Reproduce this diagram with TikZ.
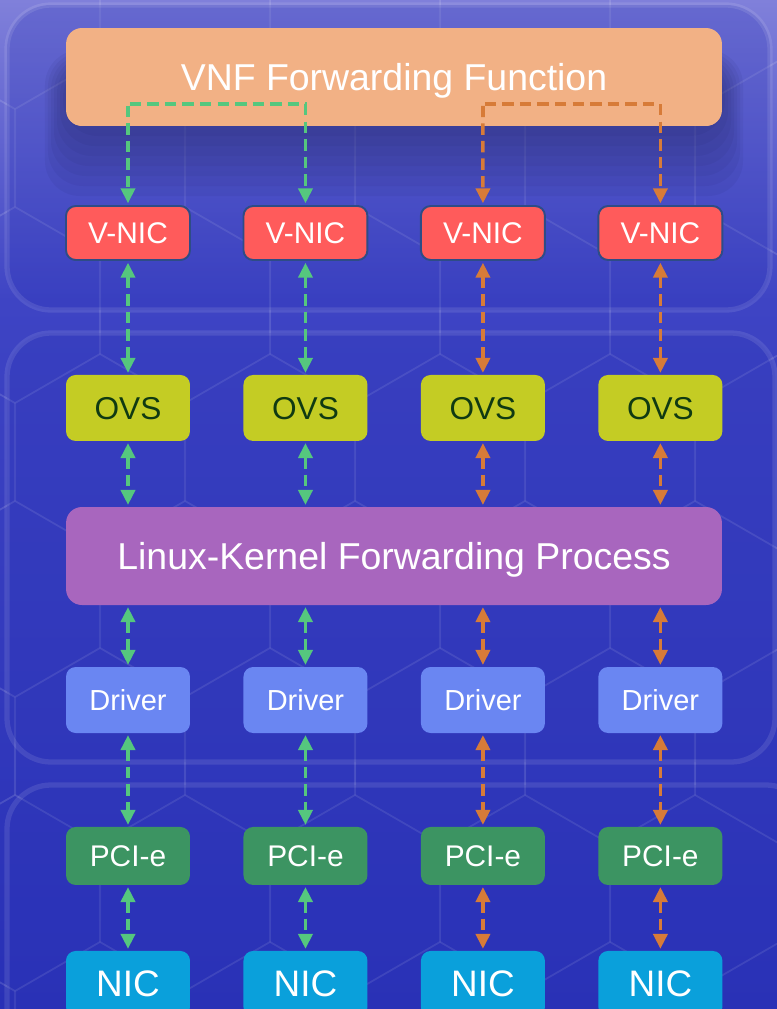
\documentclass[tikz,border=0pt]{standalone}
\usepackage{fontspec}
\setmainfont{Liberation Sans}
\usetikzlibrary{shapes,arrows.meta,positioning}

\definecolor{bgtop}{HTML}{8080DA}
\definecolor{bgmid}{HTML}{3E44C4}
\definecolor{bgbot}{HTML}{2830B6}
\definecolor{panelblue}{HTML}{2E36B8}
\definecolor{shadowblue}{HTML}{14164A}
\definecolor{vnforange}{HTML}{F2B185}
\definecolor{vnicred}{HTML}{FF5B5B}
\definecolor{vnicedge}{HTML}{2E4C86}
\definecolor{ovsyellow}{HTML}{C4CC24}
\definecolor{ovstext}{HTML}{103A12}
\definecolor{kernelpurple}{HTML}{A866BE}
\definecolor{drvblue}{HTML}{6A86F2}
\definecolor{pcigreen}{HTML}{3C9462}
\definecolor{nicblue}{HTML}{0AA0DB}
\definecolor{flowgreen}{HTML}{55C77E}
\definecolor{floworange}{HTML}{D77B38}

\tikzstyle{hexline} = [draw=white, draw opacity=0.07, line width=1pt]
\tikzstyle{panel} = [rounded corners=25pt, fill=panelblue, fill opacity=0.30, draw=white, draw opacity=0.10, line width=3pt]
\tikzstyle{box} = [rectangle, rounded corners=5.5pt, minimum width=2.48cm, inner sep=0pt, text depth=0pt, text=white]
\tikzstyle{wide} = [box, minimum width=13.12cm, minimum height=1.96cm, rounded corners=9pt, font=\fontsize{21.3pt}{25pt}\selectfont]
\tikzstyle{vnic} = [box, fill=vnicred, draw=vnicedge, line width=1.1pt, minimum height=1.08cm, font=\fontsize{17pt}{20pt}\selectfont]
\tikzstyle{ovs} = [box, fill=ovsyellow, text=ovstext, minimum height=1.32cm, font=\fontsize{18pt}{21pt}\selectfont]
\tikzstyle{driver} = [box, fill=drvblue, minimum height=1.32cm, font=\fontsize{16.5pt}{20pt}\selectfont]
\tikzstyle{pcie} = [box, fill=pcigreen, minimum height=1.16cm, font=\fontsize{17pt}{20pt}\selectfont]
\tikzstyle{nic} = [box, fill=nicblue, minimum height=1.32cm, font=\fontsize{21pt}{24pt}\selectfont]
\tikzstyle{gflow} = [draw=flowgreen, line width=2pt, dash pattern=on 6.5pt off 3.5pt, shorten >=1pt, shorten <=1pt]
\tikzstyle{oflow} = [gflow, draw=floworange]

\begin{document}
\begin{tikzpicture}[x=0.02cm, y=-0.02cm, node distance=3.55cm, >={Triangle[width=8pt,length=8.5pt]}]
		% background
		\clip (0,0) rectangle (777,1009);
		\shade[top color=bgtop, bottom color=bgmid] (0,0) rectangle (777,300);
		\shade[top color=bgmid, bottom color=bgbot] (0,299) rectangle (777,1009);
		\foreach \r in {0,...,7}{
			\foreach \c in {-1,...,5}{
				\pgfmathsetmacro{\hx}{\c*170+mod(\r,2)*85+15}
				\pgfmathsetmacro{\hy}{\r*147+11}
				\draw[hexline] (\hx,\hy) +(30:98) -- +(90:98) -- +(150:98) -- +(210:98) -- +(270:98) -- +(330:98) -- cycle;
			}
		}
		\draw[panel] (7,5) rectangle (770,310);
		\draw[panel] (7,333) rectangle (775,762);
		\draw[panel] (7,785) rectangle (810,1060);
		\foreach \s in {0,5,...,35}
			\fill[shadowblue, opacity=0.06, rounded corners=20pt] (66-0.6*\s,64-0.4*\s) rectangle (722+0.6*\s,126+2*\s);

		\node [wide, fill=vnforange] (vnf) at (394,77) {VNF Forwarding Function};

		\node [vnic] (vnic1) at (128,233) {V-NIC};
		\node [vnic, right of=vnic1] (vnic2) {V-NIC};
		\node [vnic, right of=vnic2] (vnic3) {V-NIC};
		\node [vnic, right of=vnic3] (vnic4) {V-NIC};

		\node [ovs, below of=vnic1, node distance=3.5cm] (ovs1) {OVS};
		\node [ovs, right of=ovs1] (ovs2) {OVS};
		\node [ovs, right of=ovs2] (ovs3) {OVS};
		\node [ovs, right of=ovs3] (ovs4) {OVS};

		\node [wide, fill=kernelpurple] (kernel) at (394,556) {Linux-Kernel Forwarding Process};

		\node [driver] (drv1) at (128,700) {Driver};
		\node [driver, right of=drv1] (drv2) {Driver};
		\node [driver, right of=drv2] (drv3) {Driver};
		\node [driver, right of=drv3] (drv4) {Driver};

		\node [pcie, below of=drv1, node distance=3.12cm] (pci1) {PCI-e};
		\node [pcie, right of=pci1] (pci2) {PCI-e};
		\node [pcie, right of=pci2] (pci3) {PCI-e};
		\node [pcie, right of=pci3] (pci4) {PCI-e};

		\node [nic, below of=pci1, node distance=2.56cm] (nic1) {NIC};
		\node [nic, right of=nic1] (nic2) {NIC};
		\node [nic, right of=nic2] (nic3) {NIC};
		\node [nic, right of=nic3] (nic4) {NIC};

		% VNF to V-NIC
		\coordinate (gsplit) at (128,104);
		\coordinate (osplit) at (483,104);
		\draw [gflow, ->] (gsplit) -- (vnic1);
		\draw [gflow, ->] (gsplit) -| (vnic2);
		\draw [oflow, ->] (osplit) -- (vnic3);
		\draw [oflow, ->] (osplit) -| (vnic4);

		% V-NIC to OVS
		\draw [gflow, <->] (vnic1) -- (ovs1);
		\draw [gflow, <->] (vnic2) -- (ovs2);
		\draw [oflow, <->] (vnic3) -- (ovs3);
		\draw [oflow, <->] (vnic4) -- (ovs4);

		% OVS to kernel
		\draw [gflow, <->] (ovs1) -- (ovs1 |- kernel.north);
		\draw [gflow, <->] (ovs2) -- (ovs2 |- kernel.north);
		\draw [oflow, <->] (ovs3) -- (ovs3 |- kernel.north);
		\draw [oflow, <->] (ovs4) -- (ovs4 |- kernel.north);

		% kernel to driver
		\draw [gflow, <->] (drv1 |- kernel.south) -- (drv1);
		\draw [gflow, <->] (drv2 |- kernel.south) -- (drv2);
		\draw [oflow, <->] (drv3 |- kernel.south) -- (drv3);
		\draw [oflow, <->] (drv4 |- kernel.south) -- (drv4);

		% driver to PCI-e
		\draw [gflow, <->] (drv1) -- (pci1);
		\draw [gflow, <->] (drv2) -- (pci2);
		\draw [oflow, <->] (drv3) -- (pci3);
		\draw [oflow, <->] (drv4) -- (pci4);

		% PCI-e to NIC
		\draw [gflow, <->] (pci1) -- (nic1);
		\draw [gflow, <->] (pci2) -- (nic2);
		\draw [oflow, <->] (pci3) -- (nic3);
		\draw [oflow, <->] (pci4) -- (nic4);
\end{tikzpicture}
\end{document}
